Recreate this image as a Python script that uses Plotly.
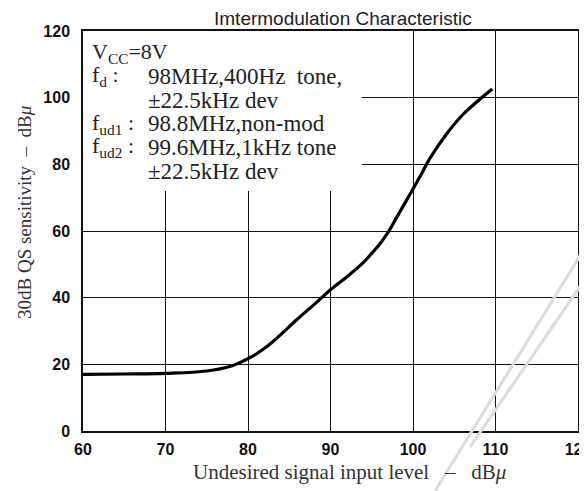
import plotly.graph_objects as go

# curve
level = [60, 65, 70, 75, 78, 79, 80, 81, 82, 83, 84, 86, 88, 90, 92, 94, 95, 96, 97, 98, 99, 100, 101, 102, 104, 106, 108, 109.6]
qs_sens = [17.0, 17.1, 17.3, 18.0, 19.5, 20.5, 21.7, 23.1, 24.8, 26.8, 29.0, 33.6, 37.9, 42.4, 46.3, 50.6, 53.3, 56.2, 59.7, 64.0, 68.3, 72.6, 77.0, 81.6, 88.9, 94.8, 99.3, 102.6]

x_ticks = [60, 70, 80, 90, 100, 110, 120]
y_ticks = [0, 20, 40, 60, 80, 100, 120]

cond_labels = ["V<sub>CC</sub>=8V", "f<sub>d</sub> :", "", "f<sub>ud1</sub> :", "f<sub>ud2</sub> :", ""]
cond_values = ["", "98MHz,400Hz  tone,", "±22.5kHz dev", "98.8MHz,non-mod", "99.6MHz,1kHz tone", "±22.5kHz dev"]

serif = "Liberation Serif, Times New Roman, serif"
sans = "Liberation Sans, Arial, sans-serif"

fig = go.Figure()
fig.add_trace(go.Scatter(
    x=level, y=qs_sens, mode="lines",
    line=dict(color="black", width=3.2, shape="spline", smoothing=1.0),
    hoverinfo="skip", showlegend=False,
))

# white patch under the condition text (grid is hidden there)
fig.add_shape(type="rect", xref="x", yref="y", x0=60, x1=93.8, y0=72, y1=120,
              fillcolor="white", line_width=0, layer="between")

for i, (lab, val) in enumerate(zip(cond_labels, cond_values)):
    yy = 113.5 - i * 7.1
    if lab:
        fig.add_annotation(x=60.9, y=yy, xref="x", yref="y", text=lab, showarrow=False,
                           xanchor="left", yanchor="middle",
                           font=dict(family=serif, size=22, color="#222"))
    if val:
        fig.add_annotation(x=67.6, y=yy, xref="x", yref="y", text=val, showarrow=False,
                           xanchor="left", yanchor="middle",
                           font=dict(family=serif, size=23, color="#222"))

fig.add_annotation(x=0.525, y=1.0, xref="paper", yref="paper", yshift=13,
                   text="Imtermodulation Characteristic", showarrow=False,
                   xanchor="center", yanchor="middle",
                   font=dict(family=sans, size=19, color="#222"))

# axis titles as annotations so they sit where the scan has them
fig.add_annotation(x=0.539, y=0, xref="paper", yref="paper", yshift=-41,
                   text="Undesired signal input level   –   dB<i>μ</i>", showarrow=False,
                   xanchor="center", yanchor="middle",
                   font=dict(family=serif, size=21, color="#333"))
fig.add_annotation(x=0, y=0.545, xref="paper", yref="paper", xshift=-58,
                   text="30dB QS sensitivity  –  dB<i>μ</i>", showarrow=False, textangle=-90,
                   xanchor="center", yanchor="middle",
                   font=dict(family=serif, size=19, color="#333"))

# scanner watermark stripes
for (x0, y0, x1, y1) in [(0.711, -0.15, 1.02, 0.47), (0.782, -0.04, 1.02, 0.39)]:
    fig.add_shape(type="line", xref="paper", yref="paper", x0=x0, y0=y0, x1=x1, y1=y1,
                  line=dict(color="#dcdcdc", width=3), layer="above")

axis_common = dict(
    showgrid=True, gridcolor="#111", gridwidth=1,
    showline=True, linecolor="#111", linewidth=1.5, mirror=True,
    zeroline=False, ticks="", ticklabeloverflow="allow", automargin=False,
    tickfont=dict(family=sans, size=16, color="#111", weight="bold"),
)

fig.update_xaxes(range=[60, 120], tickvals=x_ticks, ticklabelstandoff=3, **axis_common)
fig.update_yaxes(range=[0, 120], tickvals=y_ticks, ticklabelstandoff=8, **axis_common)

# page body has an 8px margin, so the figure is drawn 8px in from the corner
fig.update_layout(
    width=579, height=483,
    margin=dict(l=75, r=9, t=23, b=60),
    paper_bgcolor="white", plot_bgcolor="white",
)

fig.write_html("out.html")
